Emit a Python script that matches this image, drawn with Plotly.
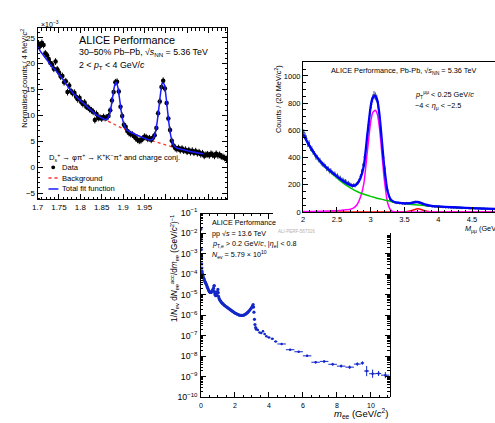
import plotly.graph_objects as go

W, H = 495, 423
def px(x): return x / W
def py(y): return 1 - y / H

FONT = "Liberation Sans"

# ---------------- Panel A : Ds+ -> phi pi ----------------
mA = [round(1.702 + 0.004 * i, 3) for i in range(111)]
valA = [23.9, 23.4, 24.0, 23.6, 22.0, 21.6, 20.9, 20.1, 19.8, 19.0,
        20.4, 18.9, 18.3, 17.5, 17.6, 16.4, 16.6, 14.5, 15.8, 14.7,
        14.3, 14.4, 13.6, 13.1, 13.4, 12.6, 12.2, 12.5, 11.7, 11.6,
        11.2, 11.0, 10.7, 9.1, 10.3, 9.5, 9.6, 9.4, 9.7, 9.5,
        9.6, 9.9, 11.0, 12.9, 14.5, 16.4, 16.5, 14.6, 11.7, 9.9,
        8.2, 7.8, 7.0, 6.6, 6.4, 6.3, 6.0, 5.6, 5.3, 5.1,
        5.2, 5.5, 5.9, 5.8, 5.5, 5.6, 5.3, 5.7, 6.2, 7.6,
        10.4, 12.7, 15.5, 16.7, 15.2, 12.4, 9.4, 7.2, 5.1, 4.2,
        3.7, 3.5, 3.7, 3.3, 3.6, 3.2, 3.4, 3.0, 3.3, 2.9,
        3.2, 2.8, 3.1, 2.7, 2.9, 2.5, 2.7, 2.2, 2.4, 2.5,
        2.3, 2.6, 2.4, 2.2, 2.6, 2.3, 2.4, 2.1, 2.0, 1.8,
        1.6]
mA_fit = [round(1.700 + 0.004 * k, 3) for k in range(98)]
fitA = [23.2, 22.7, 22.2, 21.8, 21.3, 20.9, 20.5, 20.0, 19.6, 19.2,
        18.9, 18.5, 18.1, 17.7, 17.3, 16.9, 16.4, 15.9, 15.4, 15.0,
        14.6, 14.2, 13.9, 13.5, 13.2, 12.9, 12.6, 12.3, 12.0, 11.7,
        11.4, 11.1, 10.8, 10.5, 10.2, 9.95, 9.77, 9.59, 9.41, 9.27,
        9.20, 9.41, 10.14, 11.63, 13.74, 15.68, 16.39, 15.36, 13.10, 10.67,
        8.86, 7.81, 7.28, 7.01, 6.81, 6.65, 6.51, 6.37, 6.23, 6.09,
        5.95, 5.81, 5.67, 5.54, 5.42, 5.30, 5.26, 5.34, 5.77, 6.84,
        8.81, 11.55, 14.38, 16.19, 16.09, 14.08, 11.05, 8.11, 5.95, 4.70,
        4.08, 3.80, 3.64, 3.56, 3.48, 3.40, 3.32, 3.24, 3.16, 3.08,
        3.00, 2.94, 2.88, 2.82, 2.76, 2.70, 2.64, 2.58]
mA_bkg = [1.840, 1.860, 1.880, 1.900, 1.920, 1.940, 1.960, 1.980, 2.000, 2.020, 2.040, 2.060, 2.088]
bkgA = [9.95, 9.05, 8.25, 7.45, 6.65, 5.95, 5.30, 4.75, 4.25, 3.80, 3.40, 3.00, 2.58]
xticksA = [1.7, 1.75, 1.8, 1.85, 1.9, 1.95, 2.0, 2.05, 2.1]
xtextA = ["1.7", "1.75", "1.8", "1.85", "1.9", "1.95", "", "", ""]

# ---------------- Panel B : dimuon Pb-Pb ----------------
mB = [round(2.01 + 0.02 * i, 2) for i in range(142)]
valB = [585, 560, 540, 500, 505, 470, 462, 440, 428, 405,
        400, 385, 378, 360, 352, 345, 335, 318, 320, 300,
        305, 290, 280, 282, 262, 268, 250, 252, 236, 238,
        225, 228, 212, 215, 205, 200, 192, 198, 195, 205,
        215, 232, 262, 300, 345, 405, 470, 560, 640, 730,
        790, 835, 860, 850, 835, 790, 690, 600, 500, 400,
        320, 230, 160, 118, 92, 82, 75, 72, 70, 66,
        68, 64, 66, 62, 64, 60, 66, 62, 64, 66,
        68, 72, 74, 76, 72, 70, 68, 62, 58, 52,
        50, 47, 46, 44, 45, 40, 42, 39, 41, 38,
        40, 36, 38, 35, 37, 34, 36, 33, 35, 32,
        34, 31, 33, 30, 32, 29, 31, 28, 30, 29,
        27, 29, 28, 26, 28, 26, 27, 25, 27, 24,
        26, 25, 23, 25, 24, 22, 24, 23, 21, 23,
        22, 21]
mB_fit = [2.0, 2.1, 2.2, 2.3, 2.4, 2.5, 2.6, 2.7, 2.75, 2.8, 2.85, 2.9, 2.95, 3.0, 3.03,
          3.05, 3.07, 3.1, 3.13, 3.15, 3.2, 3.25, 3.3, 3.35, 3.4, 3.5, 3.6, 3.7, 3.8, 3.9,
          4.0, 4.2, 4.4, 4.6, 4.84]
bkgB = [570, 478, 402, 342, 295, 252, 210, 178, 163, 151, 140, 131, 123, 115, 111,
        108, 105, 101, 97, 95, 89, 84, 78, 73, 69, 62, 56, 51, 47, 44,
        41, 36, 31, 27, 23]
jpsiB = [3, 4, 5, 6, 8, 10, 14, 20, 30, 55, 110, 210, 440, 660, 730,
         742, 748, 718, 620, 520, 250, 70, 12, 1, 0, 0, 0, 0, 0, 0,
         0, 0, 0, 0, 0]
psi2sB = [0, 0, 0, 0, 0, 0, 0, 0, 0, 0, 0, 0, 0, 0, 0,
          0, 0, 0, 0, 0, 0, 0, 0, 0, 0, 1, 10, 24, 9, 1,
          0, 0, 0, 0, 0]
totB = [573, 482, 407, 348, 303, 262, 224, 198, 193, 206, 250, 341, 563, 775, 841,
        850, 853, 819, 717, 615, 339, 154, 90, 74, 69, 63, 66, 75, 56, 45,
        41, 36, 31, 27, 23]

# ---------------- Panel C : dielectron pp ----------------
mC = [0.005, 0.015, 0.025, 0.035, 0.045, 0.055, 0.065, 0.08, 0.1, 0.12, 0.14,
      0.17, 0.2, 0.23, 0.26, 0.29, 0.32, 0.35, 0.38, 0.41, 0.44, 0.47, 0.5,
      0.53, 0.56, 0.59, 0.62, 0.65, 0.68, 0.71, 0.74, 0.77, 0.785,
      0.8, 0.82, 0.85, 0.88, 0.91, 0.94, 0.97, 1.0, 1.02, 1.04,
      1.07, 1.1, 1.14, 1.18, 1.22, 1.26, 1.3, 1.35, 1.4, 1.45,
      1.5, 1.55, 1.6, 1.65, 1.7, 1.75, 1.8, 1.85, 1.9, 1.95,
      2.0, 2.05, 2.1, 2.15, 2.2, 2.25, 2.3, 2.35, 2.4, 2.45,
      2.5, 2.55, 2.6, 2.65, 2.7, 2.75, 2.8, 2.85, 2.9, 2.95, 3.0,
      3.04, 3.07, 3.1, 3.12, 3.15, 3.18, 3.22, 3.26]
logC = [-1.8, -2.3, -2.8, -3.2, -3.5, -3.7, -3.85, -3.95, -4.02, -4.08, -4.13,
        -4.2, -4.27, -4.34, -4.4, -4.45, -4.5, -4.56, -4.63, -4.7, -4.76, -4.81, -4.85,
        -4.87, -4.89, -4.89, -4.87, -4.84, -4.8, -4.75, -4.68, -4.58, -4.55,
        -4.85, -4.95, -5.02, -5.05, -5.03, -4.96, -4.85, -4.74, -4.9, -5.08,
        -5.18, -5.24, -5.29, -5.34, -5.38, -5.42, -5.45, -5.49, -5.52, -5.56,
        -5.59, -5.62, -5.65, -5.68, -5.71, -5.74, -5.77, -5.8, -5.83, -5.86,
        -5.89, -5.91, -5.93, -5.95, -5.97, -5.99, -6.0, -6.01, -6.01, -6.01,
        -6.0, -5.98, -5.96, -5.93, -5.9, -5.86, -5.82, -5.77, -5.72, -5.66, -5.6,
        -5.55, -5.48, -5.6, -5.85, -6.2, -6.45, -6.6, -6.68]
mC2 = [3.35, 3.45, 3.55, 3.65, 3.75, 3.85, 4.0, 4.2, 4.4, 4.75, 5.25, 5.75,
       6.25, 6.75, 7.25, 7.75, 8.25, 8.75, 9.2, 9.5, 9.75, 10.1, 10.45, 10.85]
xerrC2 = [0.05, 0.05, 0.05, 0.05, 0.05, 0.05, 0.1, 0.1, 0.1, 0.25, 0.25, 0.25,
          0.25, 0.25, 0.25, 0.25, 0.25, 0.25, 0.2, 0.1, 0.15, 0.2, 0.15, 0.25]
logC2 = [-6.72, -6.84, -6.86, -6.78, -6.92, -7.02, -7.08, -7.15, -7.28, -7.40, -7.68, -7.78,
         -7.98, -8.29, -8.25, -8.39, -8.48, -8.53, -8.38, -8.33, -8.72, -8.85, -8.84, -8.92]
elogC2 = [0.03, 0.03, 0.03, 0.03, 0.03, 0.03, 0.03, 0.03, 0.03, 0.03, 0.04, 0.04,
          0.05, 0.06, 0.06, 0.07, 0.07, 0.08, 0.08, 0.08, 0.25, 0.2, 0.12, 0.15]

yC = [10 ** v for v in logC]
yC2 = [10 ** v for v in logC2]
yC2_hi = [10 ** (v + e) - 10 ** v for v, e in zip(logC2, elogC2)]
yC2_lo = [10 ** v - 10 ** (v - e) for v, e in zip(logC2, elogC2)]

fig = go.Figure()

# helper traces that carry the partial top / right frame axes of panel C (added first)
fig.add_trace(go.Scatter(x=[1], y=[1e-5], mode="lines", xaxis="x4", yaxis="y3", showlegend=False,
                         hoverinfo="skip"))
fig.add_trace(go.Scatter(x=[1], y=[1e-5], mode="lines", xaxis="x3", yaxis="y5", showlegend=False,
                         hoverinfo="skip"))

# Panel A traces
fig.add_trace(go.Scatter(x=mA_bkg, y=bkgA, mode="lines", xaxis="x", yaxis="y",
                         line=dict(color="#ff3030", width=1.3, dash="dot"), showlegend=False))
fig.add_trace(go.Scatter(x=mA, y=valA, mode="markers", xaxis="x", yaxis="y",
                         marker=dict(color="black", size=4.5),
                         error_y=dict(type="constant", value=0.65, color="black", thickness=1, width=0),
                         showlegend=False))
fig.add_trace(go.Scatter(x=mA_fit, y=fitA, mode="lines", xaxis="x", yaxis="y",
                         line=dict(color="#1a1aff", width=1.5, shape="spline", smoothing=0.6),
                         showlegend=False))

# Panel B traces
fig.add_trace(go.Scatter(x=mB, y=valB, mode="markers", xaxis="x2", yaxis="y2",
                         marker=dict(color="#2a3a8a", size=2),
                         error_y=dict(type="sqrt", color="#3a4a90", thickness=1, width=0),
                         error_x=dict(type="constant", value=0.01, color="#3a4a90", thickness=1, width=0),
                         showlegend=False))
fig.add_trace(go.Scatter(x=mB_fit, y=psi2sB, mode="lines", xaxis="x2", yaxis="y2",
                         line=dict(color="#ff0000", width=1.5, shape="spline", smoothing=0.5), showlegend=False))
fig.add_trace(go.Scatter(x=mB_fit, y=jpsiB, mode="lines", xaxis="x2", yaxis="y2",
                         line=dict(color="#ff00ff", width=1.5, shape="spline", smoothing=0.5), showlegend=False))
fig.add_trace(go.Scatter(x=mB_fit, y=bkgB, mode="lines", xaxis="x2", yaxis="y2",
                         line=dict(color="#00c800", width=1.5, shape="spline", smoothing=0.5), showlegend=False))
fig.add_trace(go.Scatter(x=mB_fit, y=totB, mode="lines", xaxis="x2", yaxis="y2",
                         line=dict(color="#0000ff", width=2.3, shape="spline", smoothing=0.5), showlegend=False))

# Panel C traces
fig.add_trace(go.Scatter(x=mC, y=yC, mode="markers", xaxis="x3", yaxis="y3",
                         marker=dict(color="#1428c8", size=3.2), showlegend=False))
fig.add_trace(go.Scatter(x=mC2, y=yC2, mode="markers", xaxis="x3", yaxis="y3",
                         marker=dict(color="#1428c8", size=2.5),
                         error_x=dict(type="data", array=xerrC2, color="#1428c8", thickness=1, width=0),
                         error_y=dict(type="data", array=yC2_hi, arrayminus=yC2_lo, symmetric=False,
                                      color="#1428c8", thickness=1, width=0),
                         showlegend=False))

ax_common = dict(showline=True, linecolor="black", linewidth=1, showgrid=False, zeroline=False,
                 ticks="inside", tickcolor="black", tickwidth=1,
                 tickfont=dict(family=FONT, size=8, color="black"))

fig.update_layout(
    width=W, height=H, autosize=False,
    margin=dict(l=0, r=0, t=0, b=0),
    paper_bgcolor="white", plot_bgcolor="rgba(0,0,0,0)",
    showlegend=False,
    xaxis=dict(**ax_common, domain=[px(32), px(224)], range=[1.7, 2.144], anchor="y",
               mirror="ticks", ticklen=5, tickvals=xticksA, ticktext=xtextA,
               minor=dict(ticks="inside", dtick=0.01, ticklen=2.5, tickcolor="black")),
    yaxis=dict(**ax_common, domain=[py(198), py(22)], range=[-6.2, 26.8], anchor="x",
               mirror="ticks", ticklen=5, dtick=5, tick0=0,
               minor=dict(ticks="inside", dtick=1, ticklen=2.5, tickcolor="black")),
    xaxis2=dict(**ax_common, domain=[px(300.7), 1.0], range=[2, 4.84], anchor="y2",
                mirror=True, ticklen=5, dtick=0.5, tick0=2,
                minor=dict(ticks="inside", dtick=0.1, ticklen=2.5, tickcolor="black")),
    yaxis2=dict(**ax_common, domain=[py(211), py(57)], range=[0, 1100], anchor="x2",
                ticklen=5, dtick=200,
                minor=dict(ticks="inside", dtick=50, ticklen=2.5, tickcolor="black")),
    xaxis3=dict(**ax_common, domain=[px(197.3), px(388.3)], range=[0, 11.1], anchor="y3",
                ticklen=5, dtick=2, ticklabelstandoff=1,
                minor=dict(ticks="inside", dtick=0.5, ticklen=2.5, tickcolor="black")),
    yaxis3=dict(**ax_common, domain=[py(401.7), py(211.7)], type="log", range=[-10, -1], anchor="x3",
                ticklen=5, dtick=1, exponentformat="power", ticklabelstandoff=1,
                minor=dict(ticks="inside", dtick="D1", ticklen=2.5, tickcolor="black")),
    xaxis4=dict(**ax_common, domain=[px(197.3), px(270)], range=[0, (270 - 197.3) / 17.2],
                anchor="free", position=py(211.7), side="top", showticklabels=False,
                ticklen=5, dtick=2,
                minor=dict(ticks="inside", dtick=0.5, ticklen=2.5, tickcolor="black")),
    yaxis5=dict(**ax_common, domain=[py(401.7), py(233)], type="log",
                range=[-10, -1 - (233 - 211.7) / 21.1],
                anchor="free", position=px(388.3), side="right", showticklabels=False,
                ticklen=5, dtick=1,
                minor=dict(ticks="inside", dtick="D1", ticklen=2.5, tickcolor="black")),
)
for ax in (fig.layout.xaxis2, fig.layout.yaxis2):
    ax.tickfont.size = 7.5
for ax in (fig.layout.xaxis3, fig.layout.yaxis3):
    ax.tickfont.size = 7

def note(text, x, y, size, xanchor="left", yanchor="middle", angle=0, color="black"):
    fig.add_annotation(text=text, x=px(x), y=py(y), xref="paper", yref="paper",
                       xanchor=xanchor, yanchor=yanchor, textangle=angle, showarrow=False,
                       font=dict(family=FONT, size=size, color=color))

# Panel A texts
note("×10<sup>−3</sup>", 33, 17, 7)
note("Normalised counts / 4 MeV/<i>c</i><sup>2</sup>", 18, 20, 7.5, xanchor="center", yanchor="top", angle=-90)
note("ALICE Performance", 72, 33.5, 10.8)
note("30–50% Pb–Pb, √<i>s</i><sub>NN</sub> = 5.36 TeV", 72, 47, 8.8)
note("2 &lt; <i>p</i><sub>T</sub> &lt; 4 GeV/<i>c</i>", 72, 60, 8.8)
note("D<sub>s</sub><sup>+</sup> → φπ<sup>+</sup> → K<sup>+</sup>K<sup>−</sup>π<sup>+</sup> and charge conj.", 42, 155, 7.6)
note("Data", 55, 165, 7.6)
note("Background", 55, 176, 7.6)
note("Total fit function", 55, 187.3, 7.6)
fig.add_shape(type="circle", xref="paper", yref="paper", x0=px(45.8), x1=px(49.8), y0=py(167), y1=py(163),
              fillcolor="black", line=dict(color="black", width=0))
fig.add_shape(type="line", xref="paper", yref="paper", x0=px(43), x1=px(53), y0=py(176), y1=py(176),
              line=dict(color="#ff3030", width=1.3, dash="dot"))
fig.add_shape(type="line", xref="paper", yref="paper", x0=px(43), x1=px(53), y0=py(187.3), y1=py(187.3),
              line=dict(color="#1a1aff", width=1.5))

# Panel B texts
note("ALICE Performance, Pb-Pb, √<i>s</i><sub>NN</sub> = 5.36 TeV", 327, 66, 7.3)
note("<i>p</i><sub>T</sub><sup>μμ</sup> &lt; 0.25 GeV/<i>c</i>", 411.5, 90, 7.3)
note("−4 &lt; <i>η</i><sub>μ</sub> &lt; −2.5", 411.5, 101.7, 7.3)
note("Counts / (20 MeV/<i>c</i><sup>2</sup>)", 276, 58, 7.3, xanchor="center", yanchor="top", angle=-90)
note("<i>M</i><sub>μμ</sub> (GeV/<i>c</i><sup>2</sup>)", 463, 227.5, 7.3)
note("ALI-PERF-567316", 294, 231, 4.5, xanchor="center", color="#b0b0b0")

# Panel C texts
note("ALICE Performance", 206, 221.7, 7.2)
note("pp √<i>s</i> = 13.6 TeV", 206, 233.3, 7.2)
note("<i>p</i><sub>T,e</sub> &gt; 0.2 GeV/<i>c</i>, |<i>η</i><sub>e</sub>| &lt; 0.8", 206, 244.3, 7.2)
note("<i>N</i><sub>ev</sub> = 5.79 × 10<sup>10</sup>", 206, 255, 7.2)
note("1/<i>N</i><sub>ev</sub> d<i>N</i><sub>ee</sub><sup>acc</sup>/d<i>m</i><sub>ee</sub> (GeV/<i>c</i><sup>2</sup>)<sup>−1</sup>",
     170.5, 212, 8.2, xanchor="center", yanchor="top", angle=-90)
note("<i>m</i><sub>ee</sub> (GeV/<i>c</i><sup>2</sup>)", 388.3, 418.5, 9.5, xanchor="right")

fig.write_html("out.html")
